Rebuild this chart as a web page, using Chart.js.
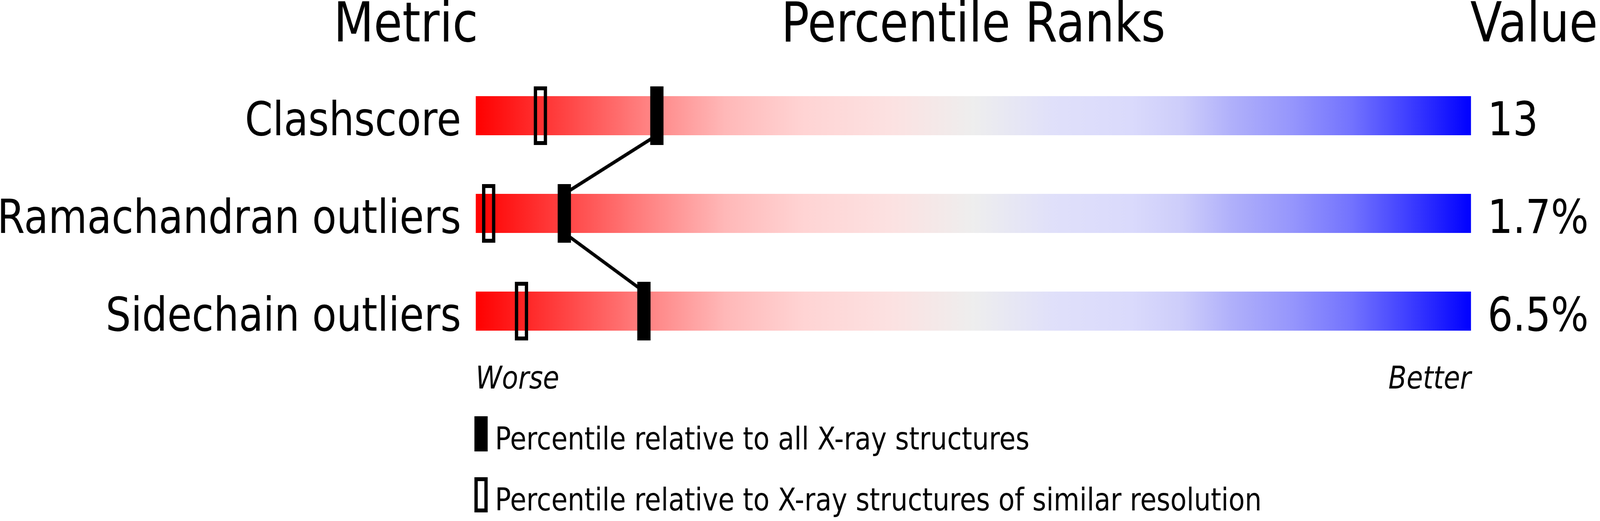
<!DOCTYPE html>
<html>
<head>
<meta charset="utf-8">
<script src="https://cdn.jsdelivr.net/npm/chart.js@4.4.1/dist/chart.umd.min.js"></script>
<style>
  html, body { margin: 0; padding: 0; background: #ffffff; overflow: hidden; width: 100%; height: 100%; }
  #outer { position: fixed; left: 0; top: 0; width: 100vw; height: 100vh; overflow: hidden; }
  #wrap { width: 4823px; height: 1333px; position: absolute; left: 0; top: 0; transform-origin: 0 0; }
</style>
</head>
<body>
<div id="outer"><div id="wrap"><canvas id="c"></canvas></div></div>
<script>
// ---- data ----
const categories = ['Clashscore', 'Ramachandran outliers', 'Sidechain outliers'];
const valueLabels = ['13', '1.7%', '6.5%'];
const pctAllXray = [18.2, 8.9, 16.9];      // solid markers
const pctSimilarRes = [6.5, 1.3, 4.6];     // hollow markers
const headers = ['Metric', 'Percentile Ranks', 'Value'];
const scaleEnds = ['Worse', 'Better'];
const legendLabels = [
  'Percentile relative to all X-ray structures',
  'Percentile relative to X-ray structures of similar resolution'
];
const pctRange = [0, 100];

// fit the 4823x1333 drawing to the actual viewport (the window may be narrower)
const W = 4823, H = 1333;
const kx = (window.innerWidth || W) / W;
const ky = (window.innerHeight || H) / H;
document.getElementById('wrap').style.transform = 'scale(' + kx + ',' + ky + ')';

// ---- styles ----
const FONT = "'DejaVu Sans', 'Liberation Sans', sans-serif";
const BAR_PX = 100, MARK_W = 40, MARK_H = 150, MARK_BORDER = 10;
const ROW_PX = 250;
const half = (BAR_PX / 2) / ROW_PX;

function makeMarker(w, h, hollow) {
  const cv = document.createElement('canvas');
  cv.width = w; cv.height = h;
  const g = cv.getContext('2d');
  g.fillStyle = '#000';
  if (hollow) {
    g.fillRect(0, 0, w, MARK_BORDER);
    g.fillRect(0, h - MARK_BORDER, w, MARK_BORDER);
    g.fillRect(0, 0, MARK_BORDER, h);
    g.fillRect(w - MARK_BORDER, 0, MARK_BORDER, h);
  } else {
    g.fillRect(0, 0, w, h);
  }
  return cv;
}
const solidMark = makeMarker(MARK_W, MARK_H, false);
const hollowMark = makeMarker(MARK_W, MARK_H, true);

const gradStops = [
  [0.00, 'rgb(255,0,0)'],
  [0.09, 'rgb(255,68,68)'],
  [0.16, 'rgb(255,122,122)'],
  [0.25, 'rgb(255,184,184)'],
  [0.33, 'rgb(255,212,212)'],
  [0.42, 'rgb(252,226,226)'],
  [0.50, 'rgb(238,238,238)'],
  [0.58, 'rgb(224,224,250)'],
  [0.66, 'rgb(218,218,252)'],
  [0.71, 'rgb(205,205,250)'],
  [0.76, 'rgb(176,176,250)'],
  [0.82, 'rgb(150,150,252)'],
  [0.88, 'rgb(115,115,254)'],
  [0.94, 'rgb(60,60,255)'],
  [1.00, 'rgb(0,0,255)']
];

function barGradient(ctx) {
  const chart = ctx.chart;
  if (!chart.chartArea) return 'rgb(255,0,0)';
  const xs = chart.scales.x;
  const x0 = xs.getPixelForValue(pctRange[0]);
  const x1 = xs.getPixelForValue(pctRange[1]);
  const g = chart.ctx.createLinearGradient(x0, 0, x1, 0);
  gradStops.forEach(s => g.addColorStop(s[0], s[1]));
  return g;
}

// connector line: bottom of one bar to top of the next, at the all-X-ray percentile
const linePts = [];
categories.forEach((c, i) => {
  if (i > 0) linePts.push({ x: pctAllXray[i], y: i - half });
  if (i < categories.length - 1) linePts.push({ x: pctAllXray[i], y: i + half });
});

const textPlugin = {
  id: 'texts',
  afterDraw(chart) {
    const g = chart.ctx;
    const xs = chart.scales.x, ys = chart.scales.y;
    const L = xs.getPixelForValue(pctRange[0]);
    const R = xs.getPixelForValue(pctRange[1]);
    g.save();
    g.fillStyle = '#000';
    g.textBaseline = 'alphabetic';
    // headers
    g.font = '140px ' + FONT;
    g.textAlign = 'right'; g.fillText(headers[0], L + 7, 106);
    g.textAlign = 'center'; g.fillText(headers[1], (L + R) / 2, 106);
    g.textAlign = 'left'; g.fillText(headers[2], R - 2, 106);
    // row labels and values
    g.font = '120px ' + FONT;
    categories.forEach((c, i) => {
      const yb = ys.getPixelForValue(i) + BAR_PX / 2;
      g.textAlign = 'right'; g.fillText(c, L - 44, yb);
      g.textAlign = 'left'; g.fillText(valueLabels[i], R + 50, yb);
    });
    // worse / better
    g.font = 'italic 80px ' + FONT;
    g.textAlign = 'left'; g.fillText(scaleEnds[0], L, 994);
    g.textAlign = 'right'; g.fillText(scaleEnds[1], R, 994);
    // legend
    const lx = L - 4;
    g.fillRect(lx, 1065, 40, 90);
    g.fillRect(lx, 1221, 40, 90);
    g.fillStyle = '#fff';
    g.fillRect(lx + 10, 1231, 20, 70);
    g.fillStyle = '#000';
    g.font = '80px ' + FONT;
    g.textAlign = 'left';
    g.fillText(legendLabels[0], L + 58, 1150);
    g.fillText(legendLabels[1], L + 58, 1306);
    g.restore();
  }
};

new Chart(document.getElementById('c'), {
  type: 'scatter',
  data: {
    datasets: [
      {
        type: 'bar',
        indexAxis: 'y',
        data: categories.map((c, i) => ({ x: pctRange.slice(), y: i })),
        backgroundColor: barGradient,
        borderWidth: 0,
        barThickness: BAR_PX,
        inflateAmount: 0,
        order: 3
      },
      {
        type: 'line',
        data: linePts,
        borderColor: '#000',
        borderWidth: 9,
        pointRadius: 0,
        tension: 0,
        fill: false,
        borderCapStyle: 'butt',
        order: 2
      },
      {
        type: 'scatter',
        data: pctSimilarRes.map((p, i) => ({ x: p, y: i })),
        pointStyle: hollowMark,
        pointRadius: 1,
        order: 1
      },
      {
        type: 'scatter',
        data: pctAllXray.map((p, i) => ({ x: p, y: i })),
        pointStyle: solidMark,
        pointRadius: 1,
        order: 0
      }
    ]
  },
  options: {
    responsive: true,
    maintainAspectRatio: false,
    devicePixelRatio: 1,
    animation: false,
    events: [],
    layout: { padding: { left: 1434, right: 389, top: 171, bottom: 412 } },
    plugins: { legend: { display: false }, tooltip: { enabled: false } },
    scales: {
      x: { type: 'linear', min: pctRange[0], max: pctRange[1], display: false, offset: false },
      y: { type: 'linear', min: -0.5, max: categories.length - 0.5, reverse: true, display: false, offset: false }
    }
  },
  plugins: [textPlugin]
});
</script>
</body>
</html>
